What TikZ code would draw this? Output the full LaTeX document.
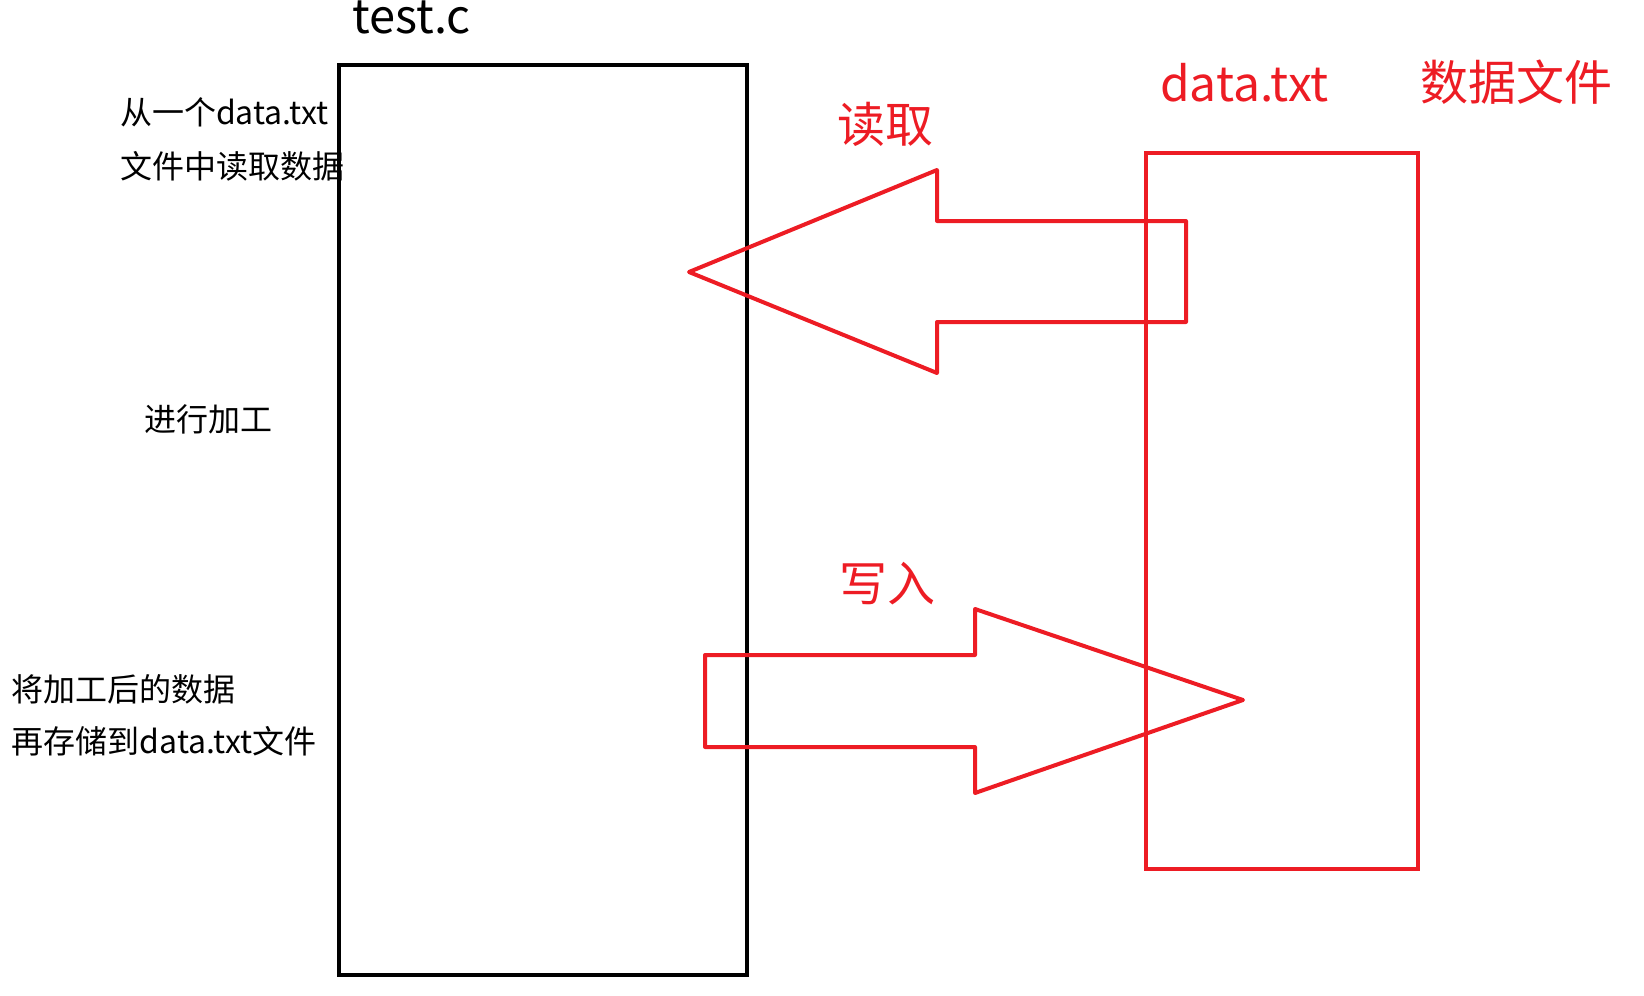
\documentclass[tikz,border=0pt]{standalone}
\usepackage{fontspec}
\setmainfont{Noto Sans CJK SC}
\definecolor{hong}{HTML}{ED1C24}
\begin{document}
\begin{tikzpicture}[x=1pt,y=-1pt,line width=4pt,
  note/.style={anchor=west,inner sep=0pt,font=\fontsize{32}{38}\selectfont},
  tag/.style={anchor=west,inner sep=0pt,text=hong,font=\fontsize{48}{56}\selectfont},
  filebox/.style={draw,rectangle,inner sep=0pt}]
  \useasboundingbox (0,0) rectangle (1644,996);

  % 程序与数据文件
  \node[filebox,minimum width=408pt,minimum height=910pt] (prog) at (543,520) {};
  \node[filebox,draw=hong,minimum width=272pt,minimum height=716pt] (file) at (1282,511) {};
  \node[anchor=base west,inner sep=0pt,font=\fontsize{47}{54}\selectfont] (progname) at (350,33) {test.c};
  \node[anchor=base west,inner sep=0pt,text=hong,font=\fontsize{48}{56}\selectfont] (filename) at (1158,101) {data.txt};
  \node[tag] (filekind) at (1418,82) {数据文件};

  % 左侧说明
  \node[note] (read1) at (118,112) {从一个data.txt};
  \node[note] (read2) at (118,166) {文件中读取数据};
  \node[note] (work) at (142,419) {进行加工};
  \node[note] (write1) at (10,689) {将加工后的数据};
  \node[note] (write2) at (10,741) {再存储到data.txt文件};

  % 读取箭头
  \node[tag] (readlabel) at (835,124) {读取};
  \draw[hong,line join=round] (689,272) -- (937,170) -- (937,221) -- (1186,221)
    -- (1186,322) -- (937,322) -- (937,373) -- cycle;

  % 写入箭头
  \node[tag] (writelabel) at (837,584) {写入};
  \draw[hong,line join=round] (705,655) -- (975,655) -- (975,609) -- (1243,700)
    -- (975,793) -- (975,747) -- (705,747) -- cycle;
\end{tikzpicture}
\end{document}
